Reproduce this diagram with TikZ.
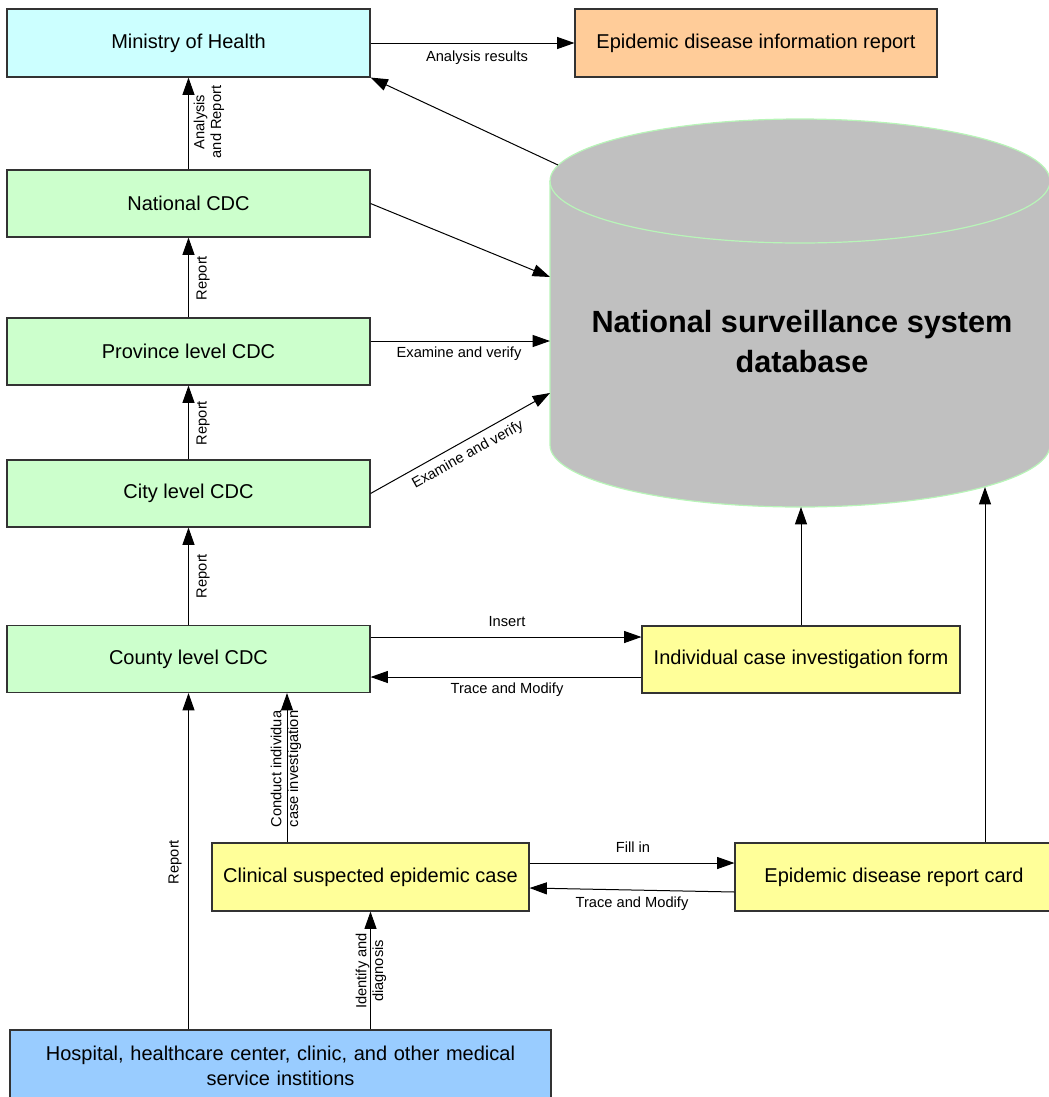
\documentclass[tikz,border=0pt]{standalone}
\usepackage{fontspec}
\setmainfont{Liberation Sans}
\usetikzlibrary{arrows.meta}
\definecolor{mohfill}{HTML}{CCFFFF}
\definecolor{orgfill}{HTML}{FFCC99}
\definecolor{cdcfill}{HTML}{CCFFCC}
\definecolor{yelfill}{HTML}{FFFF99}
\definecolor{hosfill}{HTML}{99CCFF}
\definecolor{dbfill}{HTML}{C0C0C0}
\definecolor{dbline}{HTML}{B8F5B8}
\definecolor{boxline}{HTML}{333333}
\tikzset{
  box/.style={draw=boxline, line width=0.8pt, inner sep=0pt, align=center,
              font=\fontsize{15}{19}\selectfont},
  arr/.style={draw=black, line width=0.75pt, -{Triangle[length=13pt,width=9pt]}},
  lbl/.style={font=\fontsize{11}{12.5}\selectfont, inner sep=1pt, align=center},
  vlbl/.style={lbl, rotate=90},
}
\begin{document}
\begin{tikzpicture}[x=0.75pt,y=-0.75pt]
\useasboundingbox (0,0) rectangle (1049,1097);

% database cylinder
\fill[dbfill] (550,181) rectangle (1050,445);
\fill[dbfill] (800,445) ellipse[x radius=250, y radius=62];
\fill[dbfill] (800,181) ellipse[x radius=250, y radius=62];
\draw[dbline, line width=0.9pt] (800,181) ellipse[x radius=250, y radius=62];
\draw[dbline, line width=0.9pt] (550,181) -- (550,445)
  arc[start angle=180, end angle=0, x radius=250, y radius=62] -- (1050,181);
\node[font=\fontsize{23}{30}\selectfont\bfseries, align=center] (db) at (802,342)
  {National surveillance system\\database};
\coordinate (dbmoh) at (558,165);
\coordinate (dbnat) at (550,277);
\coordinate (dbprov) at (550,341);
\coordinate (dbcity) at (550,393);
\coordinate (dbind) at (801,507);
\coordinate (dbcard) at (985,487);

% boxes
\node[box, fill=mohfill, minimum width={363*0.75pt}, minimum height={68*0.75pt}] (moh) at (188.5,43) {Ministry of Health};
\node[box, fill=orgfill, minimum width={362*0.75pt}, minimum height={68*0.75pt}] (rep) at (756,43) {Epidemic disease information report};
\node[box, fill=cdcfill, minimum width={363*0.75pt}, minimum height={67*0.75pt}] (nat) at (188.5,203.5) {National CDC};
\node[box, fill=cdcfill, minimum width={363*0.75pt}, minimum height={67*0.75pt}] (prov) at (188.5,351.5) {Province level CDC};
\node[box, fill=cdcfill, minimum width={363*0.75pt}, minimum height={67*0.75pt}] (city) at (188.5,493.5) {City level CDC};
\node[box, fill=cdcfill, minimum width={363*0.75pt}, minimum height={67*0.75pt}] (county) at (188.5,659) {County level CDC};
\node[box, fill=yelfill, minimum width={318*0.75pt}, minimum height={67*0.75pt}] (ind) at (801,659.5) {Individual case investigation form};
\node[box, fill=yelfill, minimum width={317*0.75pt}, minimum height={68*0.75pt}] (clin) at (370.5,877) {Clinical suspected epidemic case};
\node[box, fill=yelfill, minimum width={318*0.75pt}, minimum height={68*0.75pt}] (card) at (894,877) {Epidemic disease report card};
\node[box, fill=hosfill, minimum width={541*0.75pt}, minimum height={72*0.75pt}, text width={520*0.75pt}] (hosp) at (280.5,1066)
  {\raisebox{4pt}{\parbox{390pt}{\centering Hospital, healthcare center, clinic, and other medical\\service institions}}};

% connectors
\draw[arr] (moh.east) -- (rep.west);
\node[lbl] (l1) at (477,58) {Analysis results};
\draw[arr] (dbmoh) -- (moh.south east);
\draw[arr] (nat) -- (moh);
\node[vlbl] (l2) at (209,122) {Analysis\\and Report};
\draw[arr] (prov) -- (nat);
\node[vlbl] (l3) at (203,278) {Report};
\draw[arr] (city) -- (prov);
\node[vlbl] (l4) at (203,423) {Report};
\draw[arr] (county) -- (city);
\node[vlbl] (l5) at (203,576) {Report};

\draw[arr] (nat.east) -- (dbnat);
\draw[arr] (prov.east |- dbprov) -- (dbprov);
\node[lbl] (l6) at (459,354) {Examine and verify};
\draw[arr] (city.east) -- (dbcity);
\node[lbl, rotate=29.2] (l7) at (468,455) {Examine and verify};

\draw[arr] (county.east |- 0,637) -- (ind.west |- 0,637);
\node[lbl] (l8) at (507,622) {Insert};
\draw[arr] (ind.west |- 0,677) -- (county.east |- 0,677);
\node[lbl] (l9) at (507,690) {Trace and Modify};
\draw[arr] (ind.north) -- (dbind);
\draw[arr] (card.north -| dbcard) -- (dbcard);

\draw[arr] (clin.east |- 0,863) -- (card.west |- 0,863);
\node[lbl] (l10) at (633,847) {Fill in};
\draw[arr] (card.west |- 0,892) -- (clin.east |- 0,888);
\node[lbl] (l11) at (632,904) {Trace and Modify};

\draw[arr] (clin.north -| 287,0) -- (county.south -| 287,0);
\node[vlbl] (l12) at (286,769) {Conduct individua\\case investigation};
\draw[arr] (hosp.north -| county.south) -- (county.south);
\node[vlbl] (l13) at (175,862) {Report};
\draw[arr] (hosp.north -| clin.south) -- (clin.south);
\node[vlbl] (l14) at (371,971) {Identify and\\diagnosis};
\end{tikzpicture}
\end{document}
